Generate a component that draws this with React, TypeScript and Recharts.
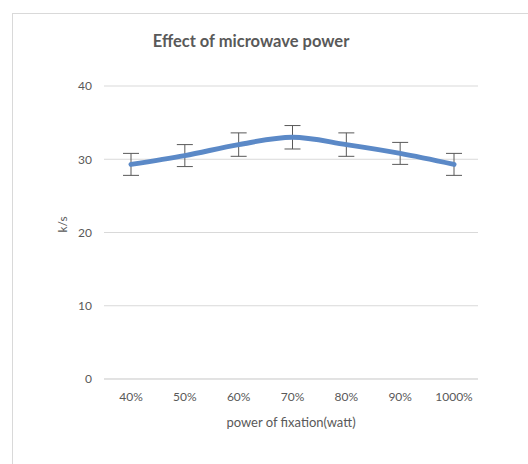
import { CartesianGrid, ErrorBar, Line, LineChart, XAxis, YAxis } from "recharts";

const categories = ["40%", "50%", "60%", "70%", "80%", "90%", "1000%"];
const ksValues = [29.3, 30.5, 32, 33, 32, 30.8, 29.3];
const ksErrors = [1.5, 1.5, 1.6, 1.6, 1.6, 1.5, 1.5];
const yTicks = [0, 10, 20, 30, 40];

const data = categories.map((power, i) => ({ power, ks: ksValues[i], err: ksErrors[i] }));

const TEXT = "#595959";
const FONT = "Lato, 'Open Sans', sans-serif";
const TICK = { fill: TEXT, fontSize: 12, fontFamily: FONT };

export default function App() {
  return (
    <div
      style={{
        position: "absolute",
        left: 0,
        top: 0,
        width: 528,
        height: 464,
        overflow: "hidden",
        background: "#fff",
      }}
    >
      <div
        style={{
          position: "absolute",
          left: 12,
          top: 13,
          width: 540,
          height: 480,
          border: "1px solid #d9d9d9",
        }}
      />
      <div
        style={{
          position: "absolute",
          left: 0,
          top: 31,
          width: 502,
          textAlign: "center",
          fontFamily: FONT,
          fontWeight: 700,
          fontSize: 16.5,
          color: TEXT,
        }}
      >
        Effect of microwave power
      </div>
      <LineChart
        width={528}
        height={464}
        data={data}
        margin={{ top: 86, right: 50, left: 60, bottom: 35 }}
        style={{ position: "absolute", left: 0, top: 0 }}
      >
        <CartesianGrid stroke="#d9d9d9" vertical={false} />
        <XAxis
          dataKey="power"
          height={50}
          padding={{ left: 27, right: 24 }}
          tick={TICK}
          tickLine={false}
          axisLine={{ stroke: "#d9d9d9" }}
          tickSize={0}
          tickMargin={13}
          label={{
            value: "power of fixation(watt)",
            position: "insideBottom",
            offset: 2,
            fill: TEXT,
            fontSize: 13,
            fontFamily: FONT,
          }}
        />
        <YAxis
          width={44}
          domain={[0, 40]}
          ticks={yTicks}
          tick={TICK}
          tickLine={false}
          axisLine={false}
          tickSize={0}
          tickMargin={12}
          label={{
            value: "k/s",
            angle: -90,
            position: "insideLeft",
            offset: 3,
            fill: TEXT,
            fontSize: 12,
            fontFamily: FONT,
          }}
        />
        <Line
          type="monotone"
          dataKey="ks"
          stroke="#5B89C7"
          strokeWidth={5}
          strokeLinecap="round"
          dot={false}
          activeDot={false}
          isAnimationActive={false}
        >
          <ErrorBar dataKey="err" direction="y" width={8} stroke="#595959" strokeWidth={1} />
        </Line>
      </LineChart>
    </div>
  );
}
